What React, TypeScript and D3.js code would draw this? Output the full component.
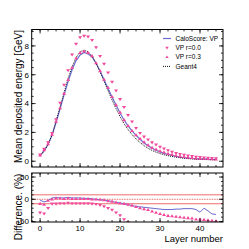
import React from "react";
import * as d3 from "d3";

const layers = d3.range(0, 45);

const geant4 = [0.37, 0.7, 1.15, 1.85, 2.8, 3.75, 4.75, 5.75, 6.55, 7.2, 7.6, 7.7, 7.6, 7.3, 6.8, 6.2, 5.55, 4.9, 4.25, 3.65, 3.1, 2.6, 2.2, 1.85, 1.55, 1.3, 1.08, 0.9, 0.75, 0.63, 0.53, 0.45, 0.38, 0.33, 0.28, 0.24, 0.21, 0.18, 0.16, 0.14, 0.13, 0.12, 0.11, 0.1, 0.09];
const caloScore = [0.38, 0.74, 1.18, 1.8, 2.69, 3.64, 4.6, 5.52, 6.35, 6.98, 7.37, 7.55, 7.45, 7.23, 6.8, 6.26, 5.66, 5.05, 4.46, 3.9, 3.35, 2.86, 2.46, 2.11, 1.8, 1.52, 1.27, 1.07, 0.9, 0.76, 0.65, 0.55, 0.47, 0.41, 0.34, 0.29, 0.25, 0.22, 0.19, 0.17, 0.17, 0.16, 0.14, 0.13, 0.12];
const vpR00 = [0.45, 0.85, 1.3, 1.95, 2.9, 4.05, 5.3, 6.3, 7.4, 8.15, 8.6, 8.7, 8.65, 8.4, 7.9, 7.3, 6.75, 6.15, 5.5, 4.9, 4.3, 3.75, 3.2, 2.75, 2.3, 1.95, 1.7, 1.5, 1.3, 1.15, 1.0, 0.88, 0.75, 0.65, 0.57, 0.5, 0.44, 0.39, 0.35, 0.31, 0.28, 0.25, 0.23, 0.21, 0.2];
const vpR03 = [0.41, 0.78, 1.18, 1.85, 2.75, 3.68, 4.7, 5.65, 6.5, 7.13, 7.52, 7.62, 7.52, 7.3, 6.8, 6.26, 5.66, 5.1, 4.46, 3.9, 3.38, 2.86, 2.46, 2.11, 1.81, 1.56, 1.32, 1.12, 0.95, 0.82, 0.7, 0.61, 0.52, 0.46, 0.39, 0.34, 0.3, 0.26, 0.23, 0.2, 0.19, 0.18, 0.16, 0.15, 0.13];

const diffCalo = [-2, -6, -3, 3, 4, 3, 3, 4, 3, 3, 3, 2, 2, 1, 0, -1, -2, -3, -5, -7, -8, -10, -12, -14, -16, -17, -18, -19, -20, -21, -22, -23, -23, -23, -22, -22, -21, -21, -21, -23, -29, -20, -26, -33, -34];
const diffR00 = [-30, -32, -20, -10, -10, -9, -9, -8, -9, -9, -9, -9, -9, -10, -11, -13, -16, -20, -24, -30, -36, -45, -52, -60, -68, -76, -85, -95, -100, -100, -100, -100, -100, -100, -100, -100, -100, -100, -100, -100, -100, -100, -100, -100, -100];
const diffR03 = [-10, -12, -3, 0, 2, 2, 1, 2, 1, 1, 1, 1, 1, 0, 0, -1, -2, -4, -5, -7, -9, -10, -12, -14, -17, -20, -22, -24, -27, -30, -33, -35, -37, -38, -39, -40, -41, -42, -43, -45, -45, -46, -47, -48, -49];

const xTicks = [0, 10, 20, 30, 40];
const yTopTicks = [0, 2, 4, 6, 8];
const yBotTicks = [-50, 0, 50];
const refLines = [10, 0, -10];
const legendLabels = ["CaloScore: VP", "VP r=0.0", "VP r=0.3", "Geant4"];

const W = 249, H = 249;
const L = 31.7, R = 223;
const T1 = 29.5, B1 = 167;
const T2 = 173, B2 = 222;
const PINK = "#f2489c";
const BLUE = "#6a6ad0";
const FONT = "'Liberation Sans', Arial, sans-serif";

function triPath(cx: number, cy: number, down: boolean, s = 2.0) {
  const h = s * 0.95;
  if (down) return `M${cx - s},${cy - h * 0.6}L${cx + s},${cy - h * 0.6}L${cx},${cy + h}Z`;
  return `M${cx - s},${cy + h * 0.6}L${cx + s},${cy + h * 0.6}L${cx},${cy - h}Z`;
}

export default function App() {
  const x = d3.scaleLinear().domain([-2.1, 45.75]).range([L, R]);
  const yT = d3.scaleLinear().domain([-0.4, 9.14]).range([B1, T1]);
  const yB = d3.scaleLinear().domain([-51, 59]).range([B2, T2]);

  const lineT = (vals: number[]) =>
    d3.line<number>().x((_, i) => x(layers[i])).y((v) => yT(v))(vals) || "";
  const lineB = (vals: number[]) =>
    d3.line<number>().x((_, i) => x(layers[i])).y((v) => yB(v))(vals) || "";

  const xMinor = d3.range(-2, 46, 2);
  const yTopMinor = d3.range(0, 9.01, 0.5);
  const yBotMinor = d3.range(-50, 51, 10);

  const tickSet = (top: number, bottom: number, yScale: any, major: number[], minor: number[]) => (
    <g stroke="#000" strokeWidth={0.8}>
      {xMinor.filter((v) => x(v) > L && x(v) < R).map((v) => (
        <g key={"xm" + v}>
          <line x1={x(v)} x2={x(v)} y1={bottom} y2={bottom - 2} />
          <line x1={x(v)} x2={x(v)} y1={top} y2={top + 2} />
        </g>
      ))}
      {xTicks.map((v) => (
        <g key={"xM" + v}>
          <line x1={x(v)} x2={x(v)} y1={bottom} y2={bottom - 4} />
          <line x1={x(v)} x2={x(v)} y1={top} y2={top + 4} />
        </g>
      ))}
      {minor.map((v) => (
        <g key={"ym" + v}>
          <line x1={L} x2={L + 2} y1={yScale(v)} y2={yScale(v)} />
          <line x1={R} x2={R - 2} y1={yScale(v)} y2={yScale(v)} />
        </g>
      ))}
      {major.map((v) => (
        <g key={"yM" + v}>
          <line x1={L} x2={L + 4} y1={yScale(v)} y2={yScale(v)} />
          <line x1={R} x2={R - 4} y1={yScale(v)} y2={yScale(v)} />
        </g>
      ))}
    </g>
  );

  return (
    <svg width={W} height={H} style={{ position: "absolute", left: 0, top: 0 }} fontFamily={FONT}>
      <rect width={W} height={H} fill="#fff" />
      <defs>
        <clipPath id="cTop"><rect x={L} y={T1} width={R - L} height={B1 - T1} /></clipPath>
        <clipPath id="cBot"><rect x={L} y={T2} width={R - L} height={B2 - T2} /></clipPath>
      </defs>

      {/* Top panel */}
      <g clipPath="url(#cTop)">
        <path d={lineT(caloScore)} fill="none" stroke={BLUE} strokeWidth={1.2} />
        <path d={lineT(geant4)} fill="none" stroke="#111" strokeWidth={1} strokeDasharray="1,1" />
        {vpR03.map((v, i) => (
          <path key={"u" + i} d={triPath(x(layers[i]), yT(v), false)} fill={PINK} />
        ))}
        {vpR00.map((v, i) => (
          <path key={"d" + i} d={triPath(x(layers[i]), yT(v), true)} fill={PINK} />
        ))}
      </g>
      <rect x={L} y={T1} width={R - L} height={B1 - T1} fill="none" stroke="#000" strokeWidth={1} />
      {tickSet(T1, B1, yT, yTopTicks, yTopMinor)}
      {yTopTicks.map((v) => (
        <text key={"yt" + v} x={29} y={yT(v)} dy="0.35em" textAnchor="end" fontSize={8}>{v}</text>
      ))}

      {/* Legend */}
      <g fontSize={6.5}>
        {legendLabels.map((lab, i) => {
          const ly = 38.5 + i * 9.3;
          return (
            <g key={lab}>
              {i === 0 && <line x1={163} x2={171} y1={ly} y2={ly} stroke={BLUE} strokeWidth={1.2} />}
              {i === 1 && <path d={triPath(167, ly, true, 1.7)} fill={PINK} />}
              {i === 2 && <path d={triPath(167, ly, false, 1.7)} fill={PINK} />}
              {i === 3 && <line x1={163} x2={171} y1={ly} y2={ly} stroke="#111" strokeWidth={1} strokeDasharray="1,1" />}
              <text x={175.5} y={ly} dy="0.35em">{lab}</text>
            </g>
          );
        })}
      </g>

      <text transform={`translate(22,96.5) rotate(-90)`} textAnchor="middle" fontSize={10}>
        Mean deposited energy [GeV]
      </text>

      {/* Bottom panel */}
      <g clipPath="url(#cBot)">
        {refLines.map((v) => (
          <line key={"r" + v} x1={L} x2={R} y1={yB(v)} y2={yB(v)} stroke="#e84848" strokeWidth={0.8}
            strokeDasharray={v === 0 ? "1.5,1" : undefined} />
        ))}
        <path d={lineB(diffCalo)} fill="none" stroke={BLUE} strokeWidth={1} />
        {diffR03.map((v, i) => (
          <path key={"bu" + i} d={triPath(x(layers[i]), yB(v), false)} fill={PINK} />
        ))}
        {diffR00.map((v, i) => (
          <path key={"bd" + i} d={triPath(x(layers[i]), yB(v), true)} fill={PINK} />
        ))}
      </g>
      <rect x={L} y={T2} width={R - L} height={B2 - T2} fill="none" stroke="#000" strokeWidth={1} />
      {tickSet(T2, B2, yB, yBotTicks, yBotMinor)}
      {yBotTicks.map((v) => (
        <text key={"yb" + v} x={29} y={yB(v)} dy="0.35em" textAnchor="end" fontSize={8}>{v}</text>
      ))}
      {xTicks.map((v) => (
        <text key={"xt" + v} x={x(v)} y={231} textAnchor="middle" fontSize={8}>{v}</text>
      ))}
      <text x={R} y={241.5} textAnchor="end" fontSize={9.5}>Layer number</text>
      <text transform={`translate(22,207) rotate(-90)`} textAnchor="middle" fontSize={10}>
        Difference. (%)
      </text>
    </svg>
  );
}
